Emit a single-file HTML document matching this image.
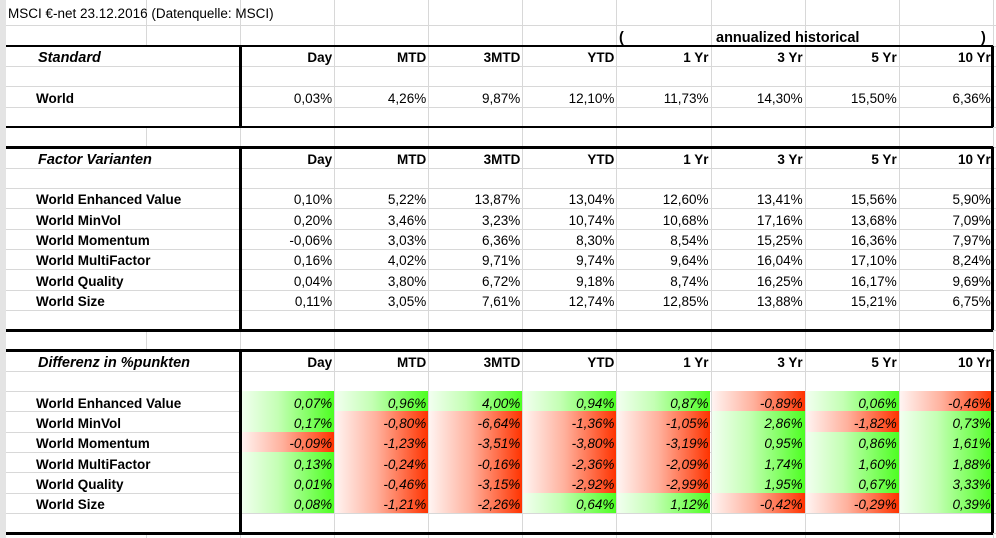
<!DOCTYPE html>
<html><head><meta charset="utf-8">
<style>
html,body{margin:0;width:996px;height:538px;overflow:hidden;background:#fff;font-family:"Liberation Sans",Arial,sans-serif;position:relative}
.a{position:absolute;box-sizing:border-box}
.t{position:absolute;white-space:nowrap;font-size:13.5px;line-height:20px;color:#000}
</style></head><body>
<script>
const colHeaders=["Day","MTD","3MTD","YTD","1 Yr","3 Yr","5 Yr","10 Yr"];
const stdRows=["World"];
const stdVals=[[0.03,4.26,9.87,12.10,11.73,14.30,15.50,6.36]];
const facRows=["World Enhanced Value","World MinVol","World Momentum","World MultiFactor","World Quality","World Size"];
const facVals=[
[0.10,5.22,13.87,13.04,12.60,13.41,15.56,5.90],
[0.20,3.46,3.23,10.74,10.68,17.16,13.68,7.09],
[-0.06,3.03,6.36,8.30,8.54,15.25,16.36,7.97],
[0.16,4.02,9.71,9.74,9.64,16.04,17.10,8.24],
[0.04,3.80,6.72,9.18,8.74,16.25,16.17,9.69],
[0.11,3.05,7.61,12.74,12.85,13.88,15.21,6.75]];
const diffVals=[
[0.07,0.96,4.00,0.94,0.87,-0.89,0.06,-0.46],
[0.17,-0.80,-6.64,-1.36,-1.05,2.86,-1.82,0.73],
[-0.09,-1.23,-3.51,-3.80,-3.19,0.95,0.86,1.61],
[0.13,-0.24,-0.16,-2.36,-2.09,1.74,1.60,1.88],
[0.01,-0.46,-3.15,-2.92,-2.99,1.95,0.67,3.33],
[0.08,-1.21,-2.26,0.64,1.12,-0.42,-0.29,0.39]];

const R=document.body;
const RH=20.32, R0=25.36, C0=240, CW=94.1, TY=2;
function rowTop(r){return R0+RH*r;}
function colX(c){return C0+CW*c;}
function box(x,y,w,h,bg){const d=document.createElement('div');d.className='a';d.style.cssText=`left:${x}px;top:${y}px;width:${w}px;height:${h}px;background:${bg}`;R.appendChild(d);return d;}
function txt(s,x,y,opts){const d=document.createElement('div');d.className='t';d.textContent=s;
 d.style.top=(y+TY)+'px';
 if(opts&&opts.right!==undefined){d.style.right=(996-opts.right)+'px';}else d.style.left=x+'px';
 if(opts&&opts.b)d.style.fontWeight='bold';
 if(opts&&opts.i)d.style.fontStyle='italic';
 if(opts&&opts.fs)d.style.fontSize=opts.fs+'px';
 R.appendChild(d);return d;}
function fmt(v){return v.toFixed(2).replace('.',',')+'%';}

let s=box(0,0,6,538,'#e4e4e4');


for(let r=0;r<=26;r++){const g=box(6,Math.round(rowTop(r)),990,1,'#d8d8d8');

}
for(let c=0;c<=8;c++){const g=box(Math.round(colX(c)),0,1,538,'#d8d8d8');

}
[[0,rowTop(1)],[rowTop(5),rowTop(6)],[rowTop(15),rowTop(16)],[rowTop(25),538]].forEach(([a,b])=>{
 const g=box(146,a,1,b-a,'#d8d8d8');
 
 });

diffVals.forEach((row,i)=>row.forEach((v,c)=>{
 const y=rowTop(18+i);
 const bg=v>=0?'linear-gradient(to right,#f2fff0,#c4ffb4 40%,#4dff22)':'linear-gradient(to right,#fff4f2,#ffb09c 45%,#ff3300)';
 const d=box(colX(c)+1,y,CW-1,RH,bg);
 
 
}));

function thick(x,y,w,h,n){const d=box(x,y,w,h,'#000');}
[[1,5],[6,15],[16,25]].forEach(([a,b])=>{
 const y1=rowTop(a),y2=rowTop(b);
 thick(6,y1-1,987,2.5,'table-top-border');
 thick(6,y2-1,987,2.5,'table-bottom-border');
 thick(C0-1,y1,2.5,y2-y1,'table-divider');
 thick(991,y1,2.5,y2-y1,'table-right-border');
});

let t=txt('MSCI €-net 23.12.2016 (Datenquelle: MSCI)',8,2,{fs:13.5});

t=txt('(',619,rowTop(0)+1,{b:1,fs:14.5});
t=txt('annualized historical',716,rowTop(0)+1,{b:1,fs:14.5});
t=txt(')',981,rowTop(0)+1,{b:1,fs:14.5});

function section(title,hr,names,vals,r0,ital,nm){
 let h=txt(title,38,rowTop(hr)+0.5,{b:1,i:1,fs:14.5});
 
 colHeaders.forEach((c,j)=>{const e=txt(c,0,rowTop(hr)+0.5,{b:1,right:colX(j+1)-2,fs:13.5});
  });
 names.forEach((n,i)=>{const e=txt(n,36,rowTop(r0+i)+0.5,{b:1,fs:13.5});
  
  vals[i].forEach((v,j)=>{const f=txt(fmt(v),0,rowTop(r0+i)+0.5,{right:colX(j+1)-2,i:ital,fs:13.5});
   });
 });
}
section('Standard',1,stdRows,stdVals,3,0,'standard');
section('Factor Varianten',6,facRows,facVals,8,0,'factor');
section('Differenz in %punkten',16,facRows,diffVals,18,1,'differenz');
</script>
</body></html>
